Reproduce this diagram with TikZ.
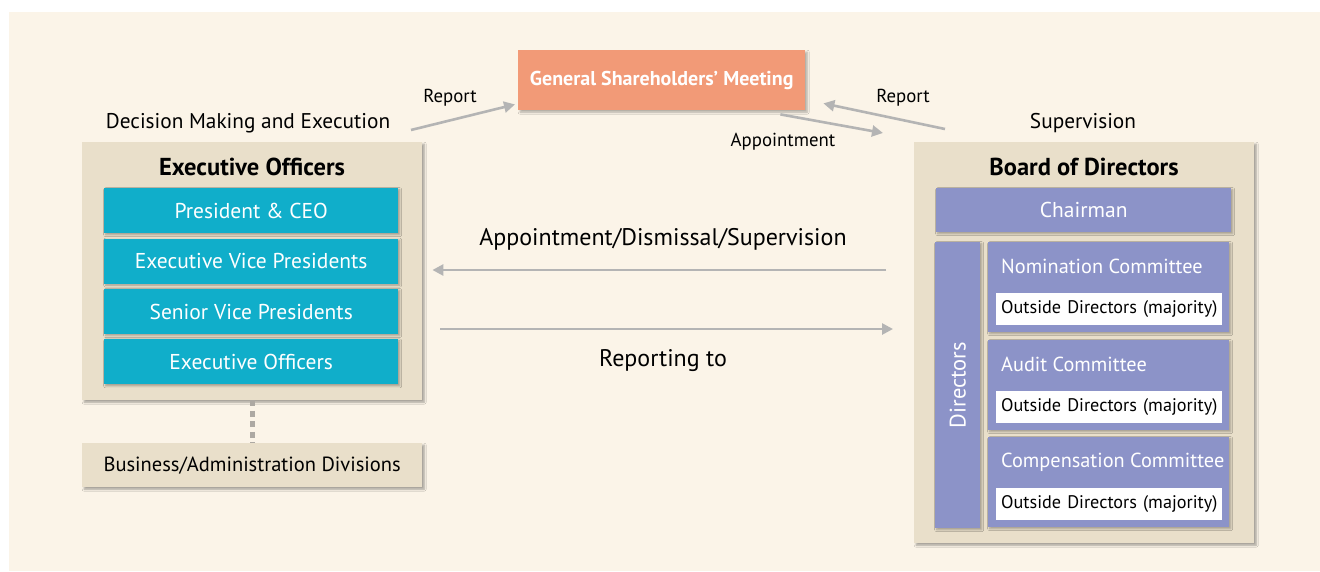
\documentclass[tikz,border=0pt]{standalone}
\usepackage{fontspec}
\setmainfont{PT Sans}
\usetikzlibrary{arrows.meta,positioning,shadows.blur}
\definecolor{CGCream}{HTML}{FBF4E8}
\definecolor{CGTan}{HTML}{E9DFCA}
\definecolor{CGCyan}{HTML}{10AECA}
\definecolor{CGPurple}{HTML}{8C93C8}
\definecolor{CGSalmon}{HTML}{F29A77}
\definecolor{CGArrow}{HTML}{B4B4B4}
\definecolor{CGDots}{HTML}{ADA9A3}
\newcommand{\cgfont}[1]{\fontsize{#1}{#1}\selectfont}

\begin{document}
\begin{tikzpicture}[x=1pt,y=-1pt,
  panel/.style={fill=CGTan,anchor=north west,inner sep=0pt,blur shadow={shadow xshift=2pt,shadow yshift=-2pt,shadow blur steps=6,shadow opacity=35}},
  execrow/.style={fill=CGCyan,text=white,minimum width=294pt,minimum height=45pt,inner sep=0pt,font=\cgfont{21.5},blur shadow={shadow xshift=1.5pt,shadow yshift=-1.5pt,shadow blur steps=4,shadow opacity=30}},
  boardrow/.style={fill=CGPurple,text=white,anchor=north west,inner sep=0pt,font=\cgfont{21.5},blur shadow={shadow xshift=1.5pt,shadow yshift=-1.5pt,shadow blur steps=4,shadow opacity=30}},
  committee/.style={text=white,anchor=west,font=\cgfont{20.3},inner sep=0pt},
  outside/.style={fill=white,anchor=north west,minimum width=226pt,minimum height=32pt,inner sep=0pt,inner xsep=5pt,text width=216pt,align=left,font=\cgfont{18.2}},
  heading/.style={font=\bfseries\cgfont{24.5}},
  caption/.style={font=\cgfont{21.3}},
  small/.style={font=\cgfont{18.8}},
  flow/.style={draw=CGArrow,line width=2.6pt,-{Triangle[length=11pt,width=11pt]}}
]
\useasboundingbox (0,0) rectangle (1320,571);
\fill[CGCream] (9,12) rectangle (1320,571);

% general shareholders' meeting
\node[fill=CGSalmon,text=white,font=\bfseries\cgfont{20},minimum width=287pt,minimum height=60pt,inner sep=0pt,anchor=north west,blur shadow={shadow xshift=2pt,shadow yshift=-2pt,shadow blur steps=5,shadow opacity=30}] (gsm) at (518,50) {General Shareholders’ Meeting};

% executive side
\node[caption] (decision) at (248,123) {Decision Making and Execution};
\node[panel,minimum width=340pt,minimum height=258pt] (exec) at (82,142) {};
\node[heading] (exectitle) at (252,167) {Executive Officers};
\node[execrow,anchor=north west] (ceo) at (104,188) {President \& CEO};
\node[execrow,below=5pt of ceo] (evp) {Executive Vice Presidents};
\node[execrow,below=5pt of evp] (svp) {Senior Vice Presidents};
\node[execrow,below=5pt of svp] (eo) {Executive Officers};
\node[panel,minimum width=340pt,minimum height=44pt,anchor=north west,font=\cgfont{20.5}] (biz) at (82,443) {Business/Administration Divisions};
\draw[CGDots,line width=5pt,dash pattern=on 6pt off 4.5pt] (exec.south) -- (biz.north);

% board side
\node[caption] (supervision) at (1083,123) {Supervision};
\node[panel,minimum width=340pt,minimum height=401pt] (board) at (914,142) {};
\node[heading] (boardtitle) at (1084,167) {Board of Directors};
\node[boardrow,minimum width=295pt,minimum height=44pt] (chair) at (936,188) {Chairman};
\node[boardrow,minimum width=45pt,minimum height=286pt] (directors) at (935,242) {};
\node[text=white,rotate=90,font=\cgfont{22.5}] (dirlabel) at (directors.center) {Directors};

\node[boardrow,minimum width=241pt,minimum height=90pt] (nom) at (988,242) {};
\node[committee] (nomtitle) at (1001,266) {Nomination Committee};
\node[outside] (nomout) at (996,293) {\mbox{Outside Directors (majority)}};

\node[boardrow,minimum width=241pt,minimum height=90pt] (aud) at (988,340) {};
\node[committee] (audtitle) at (1001,364) {Audit Committee};
\node[outside] (audout) at (996,391) {\mbox{Outside Directors (majority)}};

\node[boardrow,minimum width=241pt,minimum height=90pt] (comp) at (988,437) {};
\node[committee] (comptitle) at (1001,462) {Compensation Committee};
\node[outside] (compout) at (996,488) {\mbox{Outside Directors (majority)}};

% connectors
\coordinate (lane1) at (0,270);
\coordinate (lane2) at (0,329);
\draw[flow,shorten <=28pt,shorten >=10pt] (board.west |- lane1) -- (exec.east |- lane1);
\draw[flow,shorten <=18pt,shorten >=21pt] (exec.east |- lane2) -- (board.west |- lane2);
\node[font=\cgfont{24}] (appdis) at (663,239) {Appointment/Dismissal/Supervision};
\node[font=\cgfont{24}] (reporting) at (663,361) {Reporting to};

\coordinate (repfrom) at (411,130);
\coordinate (reptoright) at (945,129);
\draw[flow] (repfrom) -- ([shift={(-3,-6)}]gsm.south west);
\draw[flow] (reptoright) -- ([shift={(18,-7)}]gsm.south east);
\draw[flow] ([shift={(-25,4)}]gsm.south east) -- (883,133);
\node[small] (repleft) at (450,98) {Report};
\node[small] (repright) at (903,98) {Report};
\node[small] (appoint) at (783,142) {Appointment};
\end{tikzpicture}
\end{document}
